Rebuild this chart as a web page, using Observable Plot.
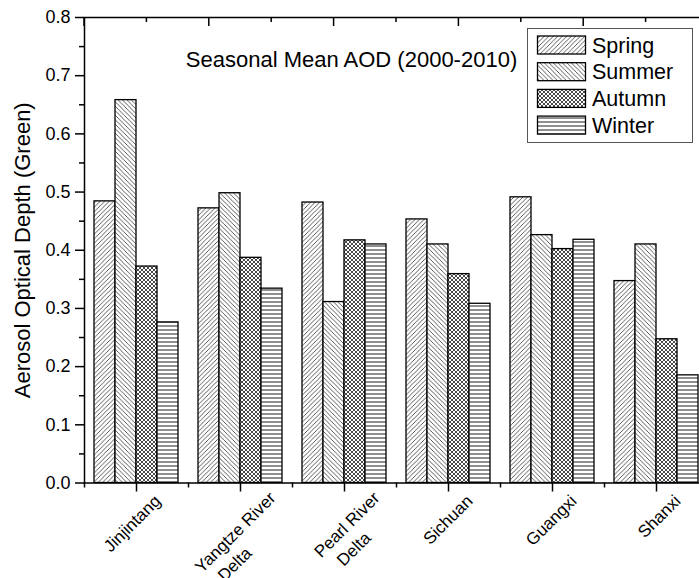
<!DOCTYPE html>
<html><head><meta charset="utf-8">
<script src="https://cdn.jsdelivr.net/npm/d3@7"></script>
<script src="https://cdn.jsdelivr.net/npm/@observablehq/plot@0.6"></script>
<style>
html,body{margin:0;padding:0;background:#fff;overflow:hidden;}
#chart{width:699px;height:578px;overflow:hidden;}
#chart svg{max-width:none !important;}
</style></head><body><div id="chart"></div>
<script>
// ---- data ----
const CATEGORIES = ["Jinjintang", "Yangtze River\nDelta", "Pearl River\nDelta", "Sichuan", "Guangxi", "Shanxi"];
const SEASONS = ["Spring", "Summer", "Autumn", "Winter"];
const SPRING = [0.484, 0.472, 0.482, 0.453, 0.491, 0.347];
const SUMMER = [0.658, 0.498, 0.311, 0.410, 0.426, 0.410];
const AUTUMN = [0.372, 0.387, 0.417, 0.359, 0.402, 0.247];
const WINTER = [0.276, 0.334, 0.410, 0.308, 0.418, 0.185];
const Y_TICKS = [0, 0.1, 0.2, 0.3, 0.4, 0.5, 0.6, 0.7, 0.8];
const Y_MINOR = [0.05, 0.15, 0.25, 0.35, 0.45, 0.55, 0.65, 0.75];
const TOP_TICKS = [0, 1, 2, 3, 4, 5, 6, 7, 8, 9, 10];
const TITLE = "Seasonal Mean AOD (2000-2010)";
const Y_LABEL = "Aerosol Optical Depth (Green)";

const SERIES = [SPRING, SUMMER, AUTUMN, WINTER];
const PATTERNS = ["url(#pSpring)", "url(#pSummer)", "url(#pAutumn)", "url(#pWinter)"];
const rows = CATEGORIES.flatMap((c, i) => SEASONS.map((s, j) => ({cat: c, season: s, value: SERIES[j][i]})));

// ---- layout ----
const W = 708, H = 578, ML = 84, MR = 0, MT = 17, MB = 95.5;
const FONT = '"Liberation Sans", Arial, Helvetica, sans-serif';
const XF = 17;
const band = (W - ML - MR) / CATEGORIES.length;
const barW = 21;
const off = (band - SEASONS.length * barW) / 2;

const barMarks = SEASONS.map((s, j) => Plot.barY(rows.filter(d => d.season === s), {
  x: "cat", y: "value", fill: PATTERNS[j], stroke: "black", strokeWidth: 1.3,
  insetLeft: off + j * barW, insetRight: band - off - (j + 1) * barW
}));

// category labels, rotated; first line end-anchored near the tick
const labelOpts = {
  x: d => d, frameAnchor: "bottom", text: d => d,
  textAnchor: "end", lineAnchor: "top", rotate: -45, lineHeight: 1.3,
  fontSize: XF, fill: "black"
};
const singleLabels = Plot.text(CATEGORIES.filter(c => !c.includes("\n")), {...labelOpts, dx: 14, dy: 8});
const multiLabels = Plot.text(CATEGORIES.filter(c => c.includes("\n")), {...labelOpts, dx: 25, dy: 5});

function topAxis(index, scales, values, dims) {
  const s = d3.scaleLinear([0, 10], [dims.marginLeft, dims.width - dims.marginRight]);
  const g = d3.create("svg:g").attr("stroke", "black").attr("stroke-width", 1.5);
  for (const t of TOP_TICKS) {
    g.append("line").attr("x1", s(t)).attr("x2", s(t))
      .attr("y1", dims.marginTop).attr("y2", dims.marginTop + (t % 2 === 0 ? 9 : 5));
  }
  return g.node();
}

const LEG = {x: 527, y: 28, w: 165, h: 114, sx: 537.5, sw: 48, sh: 18, row: 26.7, tx: 592, fs: 21.5};
function legendMark() {
  const g = d3.create("svg:g").attr("text-anchor", "start");
  g.append("rect").attr("x", LEG.x + 0.5).attr("y", LEG.y + 0.5).attr("width", LEG.w).attr("height", LEG.h)
    .attr("fill", "white").attr("stroke", "#555").attr("stroke-width", 1);
  SEASONS.forEach((s, i) => {
    const top = LEG.y + 8 + i * LEG.row;
    g.append("rect").attr("x", LEG.sx).attr("y", top).attr("width", LEG.sw).attr("height", LEG.sh)
      .attr("fill", PATTERNS[i]).attr("stroke", "black").attr("stroke-width", 1.3);
    g.append("text").attr("x", LEG.tx).attr("y", top + LEG.sh / 2).attr("dy", "0.36em")
      .attr("text-anchor", "start").attr("font-size", LEG.fs).attr("fill", "black").text(s);
  });
  return g.node();
}

const svg = Plot.plot({
  width: W, height: H,
  marginLeft: ML, marginRight: MR, marginTop: MT, marginBottom: MB,
  style: {fontFamily: FONT, color: "black", background: "white", overflow: "visible", maxWidth: "none"},
  x: {type: "band", domain: CATEGORIES, padding: 0, axis: null},
  y: {domain: [0, 0.8], axis: null},
  marks: [
    ...barMarks,
    Plot.frame({stroke: "black", strokeWidth: 1.5}),
    Plot.axisY(Y_TICKS, {tickSize: 9, tickPadding: 5, fontSize: 18, strokeWidth: 1.5, tickFormat: d3.format(".1f"), label: null}),
    Plot.axisY(Y_MINOR, {tickSize: 5, strokeWidth: 1.5, tickFormat: () => "", label: null}),
    Plot.axisY(Y_TICKS, {anchor: "right", tickSize: -10, strokeWidth: 1.5, tickFormat: () => "", label: null}),
    Plot.axisX(CATEGORIES, {tickSize: 9, strokeWidth: 1.5, tickFormat: () => "", label: null}),
    Plot.axisX(CATEGORIES, {tickSize: 5, strokeWidth: 1.5, dx: -band / 2, tickFormat: () => "", label: null}),
    topAxis,
    singleLabels,
    multiLabels,
    Plot.text([TITLE], {frameAnchor: "top-left", dx: 351 - ML, dy: 49, textAnchor: "middle", lineAnchor: "bottom", fontSize: 22, fill: "black"}),
    Plot.text([Y_LABEL], {frameAnchor: "left", dx: -62, rotate: -90, textAnchor: "middle", fontSize: 22, fill: "black"}),
    legendMark
  ]
});

svg.insertAdjacentHTML("afterbegin", `<defs>
<pattern id="pSpring" patternUnits="userSpaceOnUse" width="4.5" height="4.5">
<rect width="4.5" height="4.5" fill="white"/>
<path d="M-1.125,1.125L1.125,-1.125M0,4.5L4.5,0M3.375,5.625L5.625,3.375" stroke="#333" stroke-width="0.8"/>
</pattern>
<pattern id="pSummer" patternUnits="userSpaceOnUse" width="4.5" height="4.5">
<rect width="4.5" height="4.5" fill="white"/>
<path d="M-1.125,3.375L1.125,5.625M0,0L4.5,4.5M3.375,-1.125L5.625,1.125" stroke="#333" stroke-width="0.8"/>
</pattern>
<pattern id="pAutumn" patternUnits="userSpaceOnUse" width="4" height="4">
<rect width="4" height="4" fill="white"/>
<path d="M-1,1L1,-1M0,4L4,0M3,5L5,3M-1,3L1,5M0,0L4,4M3,-1L5,1" stroke="#333" stroke-width="0.9"/>
</pattern>
<pattern id="pWinter" patternUnits="userSpaceOnUse" width="4" height="4">
<rect width="4" height="4" fill="white"/>
<path d="M0,2H4" stroke="#444" stroke-width="1.2"/>
</pattern>
</defs>`);

document.getElementById("chart").appendChild(svg);

// left-align the wrapped second line under the first line (slight indent, as in the original)
svg.querySelectorAll("text").forEach(t => {
  const spans = t.querySelectorAll("tspan");
  if (spans.length < 2) return;
  const w0 = spans[0].getComputedTextLength();
  t.setAttribute("text-anchor", "start");
  spans.forEach((s, k) => s.setAttribute("x", -w0 + (k > 0 ? 10 : 0)));
});
</script>
</body></html>
